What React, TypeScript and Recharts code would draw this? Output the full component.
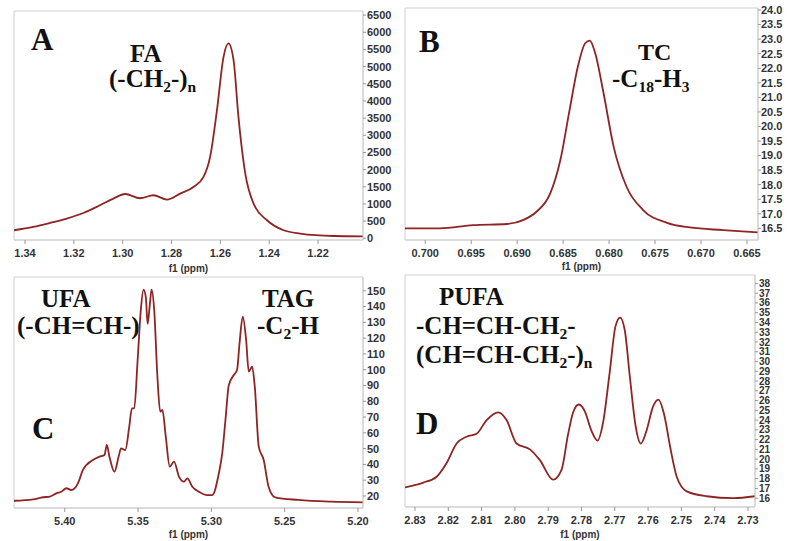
import React from 'react';
import { LineChart, Line, XAxis, YAxis, ReferenceArea } from 'recharts';

// Panel A: FA (-CH2-)n
const aPpm = [1.3445, 1.3366, 1.3297, 1.3229, 1.3161, 1.3093, 1.3038, 1.299, 1.2929, 1.2874, 1.2819, 1.2765, 1.271, 1.2669, 1.2642, 1.2614, 1.2587, 1.2567, 1.2546, 1.2526, 1.2498, 1.2464, 1.2409, 1.2341, 1.2273, 1.2136, 1.2016];
const aIntensity = [233, 330, 446, 574, 737, 962, 1157, 1290, 1166, 1253, 1127, 1302, 1496, 1787, 2370, 3731, 5285, 5675, 5188, 3536, 1886, 1011, 525, 233, 137, 67, 58];
const aXTicks = [1.34, 1.32, 1.3, 1.28, 1.26, 1.24, 1.22];
const aYTicks = [0, 500, 1000, 1500, 2000, 2500, 3000, 3500, 4000, 4500, 5000, 5500, 6000, 6500];

// Panel B: TC -C18-H3
const bPpm = [0.7022, 0.6984, 0.6948, 0.6911, 0.6893, 0.6879, 0.6864, 0.6853, 0.6843, 0.6834, 0.6826, 0.6821, 0.6815, 0.6806, 0.6795, 0.6781, 0.6763, 0.6737, 0.6712, 0.6676, 0.6638];
const bIntensity = [16.5, 16.5, 16.61, 16.65, 16.79, 17.07, 17.7, 18.85, 20.56, 22.05, 22.86, 22.95, 22.51, 21.14, 19.3, 17.93, 17.13, 16.69, 16.53, 16.44, 16.36];
const bXTicks = [0.7, 0.695, 0.69, 0.685, 0.68, 0.675, 0.67, 0.665];
const bYTicks = [16.5, 17, 17.5, 18, 18.5, 19, 19.5, 20, 20.5, 21, 21.5, 22, 22.5, 23, 23.5, 24];

// Panel C: UFA / TAG
const cPpm = [5.4346, 5.4215, 5.4147, 5.4102, 5.4057, 5.4023, 5.3989, 5.3955, 5.391, 5.3876, 5.3808, 5.3763, 5.3729, 5.3713, 5.3695, 5.3661, 5.3632, 5.3616, 5.3587, 5.356, 5.3542, 5.3526, 5.3503, 5.3481, 5.3463, 5.3447, 5.3435, 5.3419, 5.3408, 5.339, 5.3368, 5.3349, 5.3334, 5.3311, 5.3284, 5.3255, 5.3221, 5.3187, 5.3164, 5.313, 5.3085, 5.3028, 5.2994, 5.2949, 5.2926, 5.2904, 5.2881, 5.2847, 5.2825, 5.2808, 5.2786, 5.2763, 5.2745, 5.2722, 5.2704, 5.2677, 5.2643, 5.261, 5.2565, 5.2407, 5.2181, 5.1966];
const cIntensity = [17, 17.9, 19.2, 19.6, 21.7, 22.7, 24.9, 23.8, 28, 36.5, 42.8, 44.9, 46, 52.3, 44.9, 35.4, 45.1, 50.2, 49.1, 63.9, 75.5, 75.5, 106, 138, 150.7, 146, 129, 142, 150.7, 138, 95.5, 73.4, 74.5, 57.6, 38.6, 41.8, 32.3, 29.1, 31.2, 25.9, 22.7, 20.6, 20.6, 34.4, 47, 68.1, 90.3, 96.6, 99.8, 116.7, 133.6, 118.8, 98.8, 101.9, 89.3, 51.3, 42.8, 25.9, 19.2, 17.5, 16.4, 16];
const cXTicks = [5.4, 5.35, 5.3, 5.25, 5.2];
const cYTicks = [20, 30, 40, 50, 60, 70, 80, 90, 100, 110, 120, 130, 140, 150];

// Panel D: PUFA
const dPpm = [2.833, 2.8275, 2.8235, 2.8205, 2.8175, 2.8145, 2.8115, 2.8085, 2.805, 2.8025, 2.7995, 2.7955, 2.7925, 2.7885, 2.786, 2.784, 2.7825, 2.7808, 2.779, 2.777, 2.7752, 2.7735, 2.7715, 2.7698, 2.7684, 2.767, 2.7655, 2.7638, 2.7622, 2.7605, 2.7585, 2.7569, 2.7552, 2.7534, 2.7514, 2.7484, 2.7424, 2.7344, 2.7279];
const dIntensity = [17.1, 17.6, 18.2, 19.6, 21.6, 22.3, 22.6, 24.0, 24.8, 24.0, 21.6, 21.0, 19.9, 17.9, 18.9, 22.6, 24.8, 25.6, 24.9, 22.9, 21.9, 23.8, 29.0, 33.6, 34.5, 33.2, 28.5, 23.5, 21.6, 22.9, 25.4, 26.1, 24.6, 21.3, 18.2, 16.7, 16.2, 16.0, 16.2];
const dXTicks = [2.83, 2.82, 2.81, 2.8, 2.79, 2.78, 2.77, 2.76, 2.75, 2.74, 2.73];
const dYTicks = [16, 17, 18, 19, 20, 21, 22, 23, 24, 25, 26, 27, 28, 29, 30, 31, 32, 33, 34, 35, 36, 37, 38];

const LINE = '#8e2424';
const FRAME = '#cfcfcf';
const tickStyle = (size: number) => ({ fill: '#333', fontSize: size, fontWeight: 700, fontFamily: '"Liberation Sans", Arial, sans-serif' });

type PanelProps = {
  left: number; top: number; width: number; height: number;
  margin: { top: number; right: number; bottom: number; left: number };
  ppm: number[]; values: number[];
  xDomain: [number, number]; yDomain: [number, number];
  xTicks: number[]; yTicks: number[];
  xDigits: number; yDigits: number;
  yAxisWidth: number; xAxisHeight: number; yFont: number; yTickMargin: number;
  labelOffset: number;
};

function Panel(p: PanelProps) {
  const data = p.ppm.map((x, i) => ({ x, y: p.values[i] }));
  return (
    <div style={{ position: 'absolute', left: p.left, top: p.top }}>
      <LineChart width={p.width} height={p.height} data={data} margin={p.margin}>
        <XAxis
          dataKey="x" type="number" domain={p.xDomain} reversed allowDataOverflow
          ticks={p.xTicks} interval={0} tickFormatter={(v: number) => v.toFixed(p.xDigits)}
          height={p.xAxisHeight} tickSize={4} tickMargin={5}
          axisLine={{ stroke: FRAME }} tickLine={{ stroke: '#999' }}
          tick={tickStyle(11)}
          label={{ value: 'f1 (ppm)', position: 'insideBottom', offset: p.labelOffset, style: { ...tickStyle(10), fill: '#333' } }}
        />
        <YAxis
          orientation="right" type="number" domain={p.yDomain} allowDataOverflow
          ticks={p.yTicks} interval={0} tickFormatter={(v: number) => v.toFixed(p.yDigits)}
          width={p.yAxisWidth} tickSize={3} tickMargin={p.yTickMargin}
          axisLine={{ stroke: FRAME }} tickLine={{ stroke: '#999' }}
          tick={tickStyle(p.yFont)}
        />
        <ReferenceArea x1={p.xDomain[0]} x2={p.xDomain[1]} y1={p.yDomain[0]} y2={p.yDomain[1]} stroke={FRAME} strokeWidth={1} fill="none" ifOverflow="visible" />
        <Line type="monotone" dataKey="y" stroke={LINE} strokeWidth={1.8} dot={false} isAnimationActive={false} />
      </LineChart>
    </div>
  );
}

const serif = '"Liberation Serif", "Times New Roman", serif';
const Txt = ({ x, y, size, children }: { x: number; y: number; size: number; children: React.ReactNode }) => (
  <div style={{ position: 'absolute', left: x, top: y, fontFamily: serif, fontWeight: 700, fontSize: size, lineHeight: 1, color: '#111', whiteSpace: 'nowrap' }}>{children}</div>
);
const Sub = ({ children }: { children: React.ReactNode }) => (
  <span style={{ fontSize: '0.62em', position: 'relative', top: '0.3em' }}>{children}</span>
);

export default function App() {
  return (
    <div style={{ position: 'absolute', left: 0, top: 0, width: 787, height: 541, background: '#fff', overflow: 'hidden' }}>
      <Panel left={0} top={0} width={400} height={275} margin={{ top: 11, right: 0, bottom: 0, left: 14 }}
        ppm={aPpm} values={aIntensity} xDomain={[1.2016, 1.3445]} yDomain={[-50, 6620]}
        xTicks={aXTicks} yTicks={aYTicks} xDigits={2} yDigits={0}
        yAxisWidth={37} xAxisHeight={35} yFont={11} yTickMargin={1} labelOffset={3} />
      <Panel left={390} top={0} width={397} height={275} margin={{ top: 8, right: 0, bottom: 0, left: 15 }}
        ppm={bPpm} values={bIntensity} xDomain={[0.6638, 0.7022]} yDomain={[16.1, 24.07]}
        xTicks={bXTicks} yTicks={bYTicks} xDigits={3} yDigits={1}
        yAxisWidth={29} xAxisHeight={35} yFont={11} yTickMargin={0} labelOffset={5} />
      <Panel left={0} top={260} width={400} height={281} margin={{ top: 17, right: 0, bottom: 0, left: 14 }}
        ppm={cPpm} values={cIntensity} xDomain={[5.1966, 5.4346]} yDomain={[12.4, 158.7]}
        xTicks={cXTicks} yTicks={cYTicks} xDigits={2} yDigits={0}
        yAxisWidth={37} xAxisHeight={33} yFont={11} yTickMargin={1} labelOffset={3} />
      <Panel left={390} top={260} width={397} height={281} margin={{ top: 15, right: 12, bottom: 0, left: 15 }}
        ppm={dPpm} values={dIntensity} xDomain={[2.7279, 2.833]} yDomain={[15.1, 38.86]}
        xTicks={dXTicks} yTicks={dYTicks} xDigits={2} yDigits={0}
        yAxisWidth={20} xAxisHeight={34} yFont={10} yTickMargin={1} labelOffset={3} />

      <Txt x={31} y={24} size={31}>A</Txt>
      <Txt x={130} y={41} size={25}>FA</Txt>
      <Txt x={109} y={66} size={25}>(-CH<Sub>2</Sub>-)<Sub>n</Sub></Txt>

      <Txt x={419} y={26} size={31}>B</Txt>
      <Txt x={638} y={40} size={24}>TC</Txt>
      <Txt x={612} y={66} size={25}>-C<Sub>18</Sub>-H<Sub>3</Sub></Txt>

      <Txt x={41} y={286} size={25}>UFA</Txt>
      <Txt x={17} y={313} size={25}>(-CH=CH-)</Txt>
      <Txt x={32} y={413} size={31}>C</Txt>
      <Txt x={262} y={286} size={25}>TAG</Txt>
      <Txt x={257} y={313} size={25}>-C<Sub>2</Sub>-H</Txt>

      <Txt x={439} y={284} size={25}>PUFA</Txt>
      <Txt x={416} y={313} size={25}>-CH=CH-CH<Sub>2</Sub>-</Txt>
      <Txt x={416} y={342} size={25}>(CH=CH-CH<Sub>2</Sub>-)<Sub>n</Sub></Txt>
      <Txt x={416} y={408} size={31}>D</Txt>
    </div>
  );
}
